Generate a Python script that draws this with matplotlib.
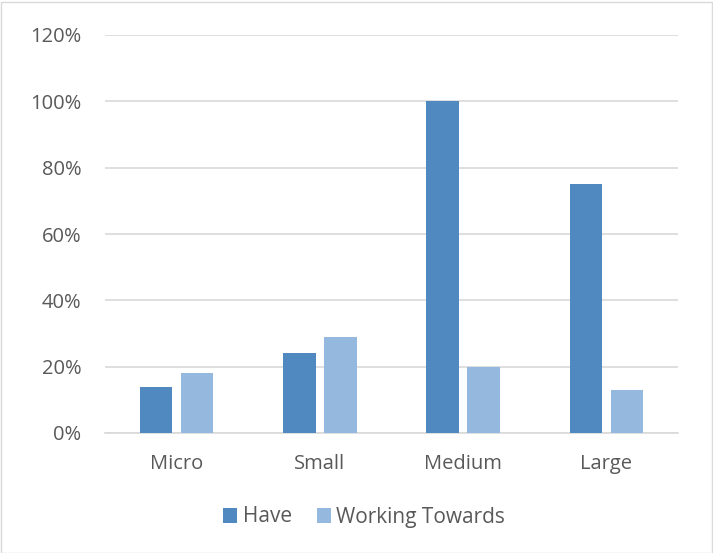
import matplotlib.pyplot as plt
import numpy as np
from matplotlib.patches import Rectangle

categories = ['Micro', 'Small', 'Medium', 'Large']
have = [14, 24, 100, 75]
working_towards = [18, 29, 20, 13]

plt.rcParams['font.family'] = ['Open Sans', 'DejaVu Sans']
plt.rcParams['font.size'] = 14.5

fig = plt.figure(figsize=(7.13, 5.53), dpi=100)
ax = fig.add_axes([105 / 713, 1 - 433 / 553, 573 / 713, 398 / 553])

x = np.arange(len(categories))
w = 0.227
ax.bar(x - 0.143, have, w, color='#4f89bf', label='Have', zorder=3)
ax.bar(x + 0.143, working_towards, w, color='#95b8df', label='Working Towards', zorder=3)

ax.set_xlim(-0.5, len(categories) - 0.5)
ax.set_ylim(0, 120)
ax.set_yticks(range(0, 121, 20))
ax.set_yticklabels(['%d%%' % v for v in range(0, 121, 20)])
ax.set_xticks(x)
ax.set_xticklabels(categories)
ax.yaxis.grid(True, color='#d9d9d9', linewidth=1.2, zorder=0)
for s in ['top', 'right', 'left']:
    ax.spines[s].set_visible(False)
ax.spines['bottom'].set_color('#d9d9d9')
ax.spines['bottom'].set_linewidth(1.2)
ax.tick_params(length=0, colors='#595959', pad=15)
ax.tick_params(axis='y', pad=17)

leg = fig.legend(loc='center', bbox_to_anchor=(364 / 713, 1 - 517 / 553), ncol=2,
                 frameon=False, handlelength=0.7, handleheight=0.7,
                 handletextpad=0.25, columnspacing=1.2, labelcolor='#595959',
                 fontsize=15)

# chart border
fig.patches.append(Rectangle((0.5 / 713, 0.5 / 553), 711 / 713, 551 / 553,
                             transform=fig.transFigure, fill=False,
                             edgecolor='#d9d9d9', linewidth=1))

fig.savefig('out.png', dpi=100)
